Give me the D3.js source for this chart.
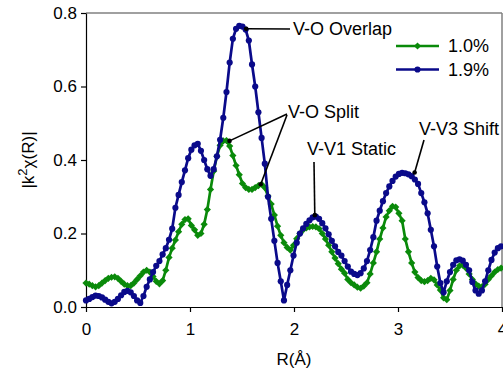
<!DOCTYPE html>
<html><head><meta charset="utf-8">
<script src="https://cdn.jsdelivr.net/npm/d3@7"></script>
<style>body{margin:0;background:#fff}svg{display:block}text{font-family:"Liberation Sans",Arial,sans-serif}</style>
</head><body><svg id="c" width="503" height="373"></svg>
<script>
const rStep = 0.0307;
const series1 = [ // 1.0%
.065,.062,.058,.055,.058,.065,.072,.078,.081,.082,.078,.070,.062,.058,.058,.065,.075,.085,.095,.100,
.095,.083,.070,.063,.072,.100,.135,.160,.182,.205,.225,.238,.240,.222,.210,.195,.200,.225,.265,.320,
.370,.410,.440,.452,.453,.438,.412,.385,.360,.336,.325,.320,.320,.325,.330,.334,.325,.302,.280,.250,
.220,.195,.175,.162,.155,.168,.186,.200,.210,.215,.218,.219,.218,.213,.200,.185,.168,.150,.133,.118,
.103,.092,.075,.066,.060,.054,.051,.057,.066,.090,.120,.150,.185,.215,.245,.262,.274,.272,.255,.235,
.185,.150,.120,.095,.080,.072,.069,.072,.078,.074,.060,.046,.025,.020,.045,.075,.100,.112,.114,.106,
.090,.075,.063,.057,.055,.062,.075,.085,.095,.102,.106];
const series2 = [ // 1.9%
.018,.022,.027,.031,.030,.026,.020,.014,.010,.014,.022,.032,.041,.044,.040,.030,.018,.011,.030,.055,
.075,.095,.112,.125,.143,.160,.183,.213,.270,.305,.340,.372,.405,.428,.440,.444,.425,.400,.375,.357,
.375,.410,.455,.515,.585,.665,.730,.757,.765,.763,.755,.725,.660,.600,.530,.460,.390,.300,.240,.180,
.120,.070,.018,.060,.100,.140,.175,.200,.214,.226,.236,.244,.246,.240,.228,.214,.198,.180,.165,.150,
.140,.125,.110,.096,.090,.087,.092,.105,.125,.155,.190,.235,.262,.288,.310,.328,.343,.355,.362,.365,
.364,.361,.356,.347,.335,.310,.285,.255,.210,.165,.110,.065,.040,.070,.095,.115,.127,.130,.126,.115,
.100,.068,.045,.036,.045,.070,.100,.128,.148,.160,.165];
const seriesNames = ["1.0%","1.9%"];
const seriesColors = ["#0a8a0a","#0a0a8a"];
const xTicks = [0,1,2,3,4];
const yTicks = [0,0.2,0.4,0.6,0.8];
const annotations = [
  {label:"V-O Overlap", tx:293, ty:35, pts:[[1.54, 0.757]], from:[[290,29]]},
  {label:"V-O Split", tx:288, ty:118, pts:[[1.38,0.452],[1.68,0.334]], from:[[287,114],[287,115]]},
  {label:"V-V1 Static", tx:307, ty:155, pts:[[2.2,0.250]], from:[[314,162]]},
  {label:"V-V3 Shift", tx:419, ty:135, pts:[[3.16,0.366]], from:[[424,140]]}
];

const svg = d3.select("#c");
const m = {l:86, r:502, t:13, b:307};
const x = d3.scaleLinear().domain([0,4]).range([m.l,m.r]);
const y = d3.scaleLinear().domain([0,0.8]).range([m.b,m.t]);
const fs = 17;

svg.append("line").attr("x1",m.l).attr("x2",m.r).attr("y1",m.t).attr("y2",m.t).attr("stroke","#808080").attr("stroke-width",1.5);
svg.append("line").attr("x1",m.r).attr("x2",m.r).attr("y1",m.t).attr("y2",m.b).attr("stroke","#808080").attr("stroke-width",1.5);

const xa = svg.append("g").attr("transform",`translate(0,${m.b})`)
  .call(d3.axisBottom(x).tickValues(xTicks).tickFormat(d3.format("d")).tickSize(5).tickSizeOuter(0));
const ya = svg.append("g").attr("transform",`translate(${m.l},0)`)
  .call(d3.axisLeft(y).tickValues(yTicks).tickFormat(d3.format(".1f")).tickSize(5).tickSizeOuter(0));
[xa,ya].forEach(g=>{
  g.select(".domain").attr("stroke","#000").attr("stroke-width",1.2);
  g.selectAll(".tick line").attr("stroke","#000").attr("stroke-width",1.2);
  g.selectAll(".tick text").attr("font-size",fs).attr("fill","#000").style("font-family","Liberation Sans, Arial, sans-serif");
});
xa.selectAll(".tick text").attr("dy","0").attr("y",28);
ya.selectAll(".tick text").attr("x",-9);

svg.append("text").attr("x",x(2)).attr("y",365).attr("text-anchor","middle").attr("font-size",fs).text("R(Å)");
const yt = svg.append("text").attr("transform",`translate(34,${y(0.4)}) rotate(-90)`).attr("text-anchor","middle").attr("font-size",fs);
yt.append("tspan").text("|k");
yt.append("tspan").attr("dy",-7).attr("font-size",13).text("2");
yt.append("tspan").attr("dy",7).text("χ(R)|");

const line = d3.line().x((d,i)=>x(i*rStep)).y(d=>y(d));
const plot = svg.append("g");
const diamond = d3.symbol().type(d3.symbolSquare).size(26);
plot.append("path").datum(series1).attr("d",line).attr("fill","none").attr("stroke",seriesColors[0]).attr("stroke-width",2.7);
plot.selectAll(".d1").data(series1).join("path").attr("d",diamond)
  .attr("transform",(d,i)=>`translate(${x(i*rStep)},${y(d)}) rotate(45)`).attr("fill",seriesColors[0]);
plot.append("path").datum(series2).attr("d",line).attr("fill","none").attr("stroke",seriesColors[1]).attr("stroke-width",2.7);
plot.selectAll(".d2").data(series2).join("circle").attr("cx",(d,i)=>x(i*rStep)).attr("cy",d=>y(d)).attr("r",3.1).attr("fill",seriesColors[1]);

annotations.forEach(a=>{
  a.pts.forEach((p,j)=>{
    const f = a.from[j];
    svg.append("line").attr("x1",f[0]).attr("y1",f[1]).attr("x2",x(p[0])).attr("y2",y(p[1])).attr("stroke","#000").attr("stroke-width",1.6);
    svg.append("circle").attr("cx",x(p[0])).attr("cy",y(p[1])).attr("r",2.3).attr("fill","#000");
  });
  svg.append("text").attr("x",a.tx).attr("y",a.ty).attr("font-size",fs+1).text(a.label);
});

const lg = svg.append("g");
[0,1].forEach(k=>{
  const ly = 46 + k*23.5;
  lg.append("line").attr("x1",396).attr("x2",439).attr("y1",ly).attr("y2",ly).attr("stroke",seriesColors[k]).attr("stroke-width",2.7);
  if(k===0) lg.append("path").attr("d",diamond).attr("transform",`translate(417.5,${ly}) rotate(45)`).attr("fill",seriesColors[k]);
  else lg.append("circle").attr("cx",417.5).attr("cy",ly).attr("r",3.1).attr("fill",seriesColors[k]);
  lg.append("text").attr("x",448).attr("y",ly+6).attr("font-size",fs+1).text(seriesNames[k]);
});
</script></body></html>
